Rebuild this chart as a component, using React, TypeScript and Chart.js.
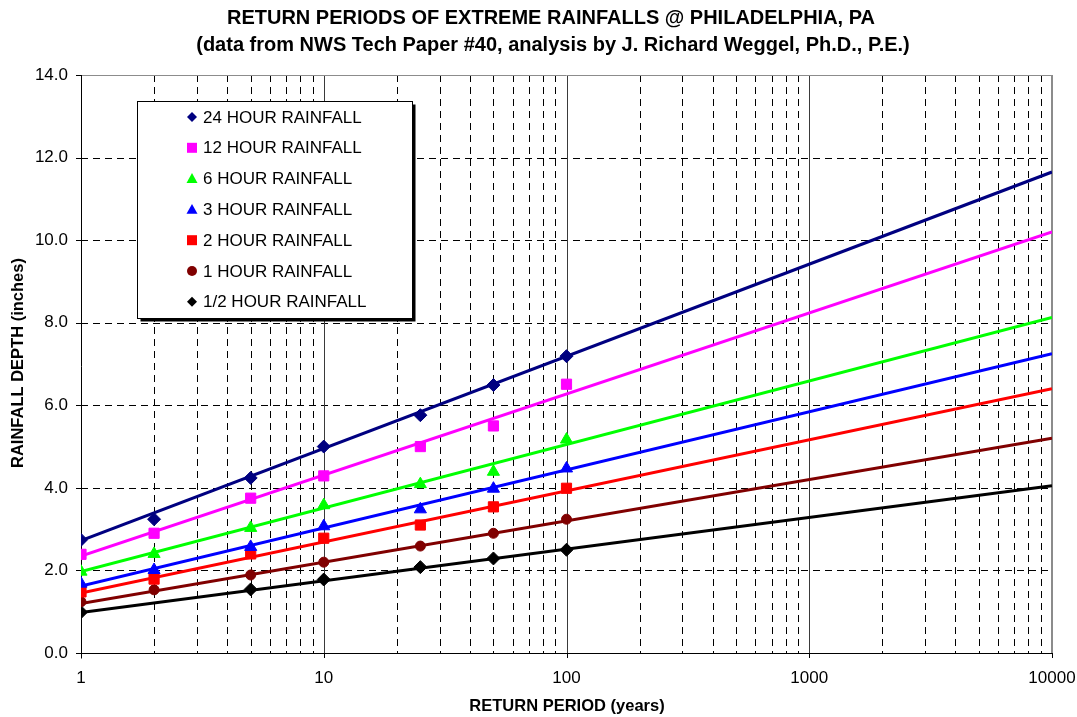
import React, { useEffect, useRef } from 'react';
import { Chart, registerables } from 'chart.js';

Chart.register(...registerables);

const FONT = "'Liberation Sans', Arial, Helvetica, sans-serif";

// ---- data ----
const returnPeriods = [1, 2, 5, 10, 25, 50, 100];
const rain24h = [2.74, 3.24, 4.24, 5.0, 5.76, 6.49, 7.19];
const rain12h = [2.39, 2.9, 3.75, 4.29, 5.0, 5.5, 6.51];
const rain6h = [1.97, 2.4, 3.03, 3.58, 4.09, 4.39, 5.17];
const rain3h = [1.68, 2.01, 2.57, 3.07, 3.48, 3.98, 4.47];
const rain2h = [1.48, 1.79, 2.4, 2.78, 3.1, 3.54, 3.99];
const rain1h = [1.24, 1.53, 1.89, 2.2, 2.59, 2.9, 3.24];
const rainHalfH: (number | null)[] = [0.99, null, 1.54, 1.78, 2.08, 2.29, 2.5];

// trend (log fit) lines: values at 1 and 10000 years
const trendPeriods = [1, 10000];
const trend24h = [2.72, 11.65];
const trend12h = [2.35, 10.2];
const trend6h = [1.97, 8.13];
const trend3h = [1.62, 7.25];
const trend2h = [1.45, 6.4];
const trend1h = [1.2, 5.2];
const trendHalfH = [0.98, 4.05];

const seriesLabels = [
  '24 HOUR RAINFALL',
  '12 HOUR RAINFALL',
  '6 HOUR RAINFALL',
  '3 HOUR RAINFALL',
  '2 HOUR RAINFALL',
  '1 HOUR RAINFALL',
  '1/2 HOUR RAINFALL',
];

const yTicks = [0, 2, 4, 6, 8, 10, 12, 14];
const xDecades = [1, 10, 100, 1000, 10000];

const titleLine1 = 'RETURN PERIODS OF EXTREME RAINFALLS @ PHILADELPHIA, PA';
const titleLine2 = '(data from NWS Tech Paper #40, analysis by J. Richard Weggel, Ph.D., P.E.)';
const xTitle = 'RETURN PERIOD (years)';
const yTitle = 'RAINFALL DEPTH (inches)';

type Shape = 'rectRot' | 'rect' | 'triangle' | 'circle';

const seriesStyle: { color: string; shape: Shape; r: number }[] = [
  { color: '#000080', shape: 'rectRot', r: 6.5 },
  { color: '#FF00FF', shape: 'rect', r: 7.2 },
  { color: '#00FF00', shape: 'triangle', r: 7 },
  { color: '#0000FF', shape: 'triangle', r: 7 },
  { color: '#FF0000', shape: 'rect', r: 7.2 },
  { color: '#800000', shape: 'circle', r: 5 },
  { color: '#000000', shape: 'rectRot', r: 6.5 },
];

function drawMarker(ctx: CanvasRenderingContext2D, shape: Shape, x: number, y: number, s: number, color: string) {
  ctx.save();
  ctx.fillStyle = color;
  ctx.beginPath();
  if (shape === 'rectRot') {
    ctx.moveTo(x, y - s);
    ctx.lineTo(x + s, y);
    ctx.lineTo(x, y + s);
    ctx.lineTo(x - s, y);
    ctx.closePath();
  } else if (shape === 'rect') {
    ctx.rect(x - s, y - s, 2 * s, 2 * s);
  } else if (shape === 'triangle') {
    ctx.moveTo(x, y - s);
    ctx.lineTo(x + s, y + s * 0.8);
    ctx.lineTo(x - s, y + s * 0.8);
    ctx.closePath();
  } else {
    ctx.arc(x, y, s, 0, Math.PI * 2);
  }
  ctx.fill();
  ctx.restore();
}

export default function App() {
  const ref = useRef<HTMLCanvasElement>(null);

  useEffect(() => {
    const canvas = ref.current!;
    const values = [rain24h, rain12h, rain6h, rain3h, rain2h, rain1h, rainHalfH];
    const trends = [trend24h, trend12h, trend6h, trend3h, trend2h, trend1h, trendHalfH];

    const datasets: any[] = [];
    values.forEach((vals, si) => {
      const st = seriesStyle[si];
      datasets.push({
        label: seriesLabels[si],
        data: returnPeriods
          .map((x, i) => (vals[i] == null ? null : { x, y: vals[i] }))
          .filter((p) => p !== null),
        showLine: false,
        pointStyle: st.shape,
        pointRadius: st.r,
        pointHoverRadius: st.r,
        backgroundColor: st.color,
        borderColor: st.color,
        borderWidth: 1,
        order: 0,
      });
    });
    trends.forEach((t, si) => {
      const st = seriesStyle[si];
      datasets.push({
        label: seriesLabels[si] + ' trend',
        data: trendPeriods.map((x, i) => ({ x, y: t[i] })),
        showLine: true,
        pointRadius: 0,
        borderColor: st.color,
        backgroundColor: st.color,
        borderWidth: 3,
        fill: false,
        order: 1,
      });
    });

    const decorPlugin = {
      id: 'decor',
      beforeDatasetsDraw(chart: any) {
        const ctx: CanvasRenderingContext2D = chart.ctx;
        const { left, right, top, bottom } = chart.chartArea;
        const xs = chart.scales.x;
        const ys = chart.scales.y;
        ctx.save();
        ctx.lineWidth = 1;
        // horizontal dashed grid
        ctx.strokeStyle = '#000';
        ctx.setLineDash([7, 5]);
        yTicks.forEach((v) => {
          if (v === 0 || v === 14) return;
          const y = Math.round(ys.getPixelForValue(v)) + 0.5;
          ctx.beginPath();
          ctx.moveTo(left, y);
          ctx.lineTo(right, y);
          ctx.stroke();
        });
        // minor vertical dashed grid
        for (let d = 1; d < 10000; d *= 10) {
          for (let m = 2; m <= 9; m++) {
            const x = Math.round(xs.getPixelForValue(d * m)) + 0.5;
            ctx.beginPath();
            ctx.moveTo(x, top);
            ctx.lineTo(x, bottom);
            ctx.stroke();
          }
        }
        ctx.setLineDash([]);
        // major vertical solid lines
        ctx.strokeStyle = '#3a3a3a';
        [10, 100, 1000].forEach((v) => {
          const x = Math.round(xs.getPixelForValue(v)) + 0.5;
          ctx.beginPath();
          ctx.moveTo(x, top);
          ctx.lineTo(x, bottom);
          ctx.stroke();
        });
        // top & right border (gray)
        ctx.strokeStyle = '#8c8c8c';
        ctx.beginPath();
        ctx.moveTo(left, Math.round(top) + 0.5);
        ctx.lineTo(right, Math.round(top) + 0.5);
        ctx.stroke();
        ctx.lineWidth = 2;
        ctx.beginPath();
        ctx.moveTo(Math.round(right), top);
        ctx.lineTo(Math.round(right), bottom);
        ctx.stroke();
        // axes
        ctx.lineWidth = 1;
        ctx.strokeStyle = '#000';
        const ax = Math.round(left) + 0.5;
        const ay = Math.round(bottom) + 0.5;
        ctx.beginPath();
        ctx.moveTo(ax, top);
        ctx.lineTo(ax, ay + 5);
        ctx.moveTo(left - 5, ay);
        ctx.lineTo(right, ay);
        ctx.stroke();
        // y ticks
        yTicks.forEach((v) => {
          const y = Math.round(ys.getPixelForValue(v)) + 0.5;
          ctx.beginPath();
          ctx.moveTo(left - 5, y);
          ctx.lineTo(left, y);
          ctx.stroke();
        });
        // x ticks
        xDecades.forEach((v) => {
          const x = Math.round(xs.getPixelForValue(v)) + 0.5;
          ctx.beginPath();
          ctx.moveTo(x, bottom);
          ctx.lineTo(x, bottom + 5);
          ctx.stroke();
        });
        ctx.restore();
      },
      afterDraw(chart: any) {
        const ctx: CanvasRenderingContext2D = chart.ctx;
        ctx.save();
        // titles
        ctx.fillStyle = '#000';
        ctx.textAlign = 'center';
        ctx.textBaseline = 'middle';
        ctx.font = `bold 20px ${FONT}`;
        ctx.fillText(titleLine1, 551, 18);
        ctx.fillText(titleLine2, 553, 45);
        ctx.font = `bold 16.5px ${FONT}`;
        ctx.fillText(xTitle, 567, 706);
        ctx.save();
        ctx.translate(18, 363);
        ctx.rotate(-Math.PI / 2);
        ctx.fillText(yTitle, 0, 0);
        ctx.restore();

        // legend
        const lx = 137.5, ly = 101.5, lw = 275, lh = 217;
        ctx.fillStyle = '#000';
        ctx.fillRect(lx + 3, ly + 3, lw, lh);
        ctx.fillStyle = '#fff';
        ctx.fillRect(lx, ly, lw, lh);
        ctx.strokeStyle = '#000';
        ctx.lineWidth = 1;
        ctx.strokeRect(lx, ly, lw, lh);
        ctx.font = `17px ${FONT}`;
        ctx.textAlign = 'left';
        ctx.textBaseline = 'middle';
        seriesLabels.forEach((lab, i) => {
          const y = 117 + i * 30.8;
          const st = seriesStyle[i];
          const s = st.shape === 'rect' ? 5 : st.shape === 'triangle' ? 5.5 : st.shape === 'circle' ? 5 : 5;
          drawMarker(ctx, st.shape, 192, y, s, st.color);
          ctx.fillStyle = '#000';
          ctx.fillText(lab, 203, y + 1);
        });
        ctx.restore();
      },
    };

    const chart = new Chart(canvas, {
      type: 'scatter',
      data: { datasets },
      options: {
        animation: false,
        responsive: false,
        maintainAspectRatio: false,
        events: [],
        layout: { padding: { left: 0, top: 75, right: 25, bottom: 0 } },
        plugins: {
          legend: { display: false },
          title: { display: false },
          tooltip: { enabled: false },
        },
        scales: {
          x: {
            type: 'logarithmic',
            min: 1,
            max: 10000,
            grid: { display: false, drawTicks: false },
            border: { display: false },
            afterFit: (scale: any) => {
              scale.height = 64;
              scale.paddingLeft = 0;
              scale.paddingRight = 0;
            },
            afterBuildTicks: (scale: any) => {
              scale.ticks = xDecades.map((v) => ({ value: v }));
            },
            ticks: {
              autoSkip: false,
              maxRotation: 0,
              padding: 15,
              color: '#000',
              font: { family: FONT, size: 17 },
              callback: (v: any) => String(v),
            },
          },
          y: {
            type: 'linear',
            min: 0,
            max: 14,
            grid: { display: false, drawTicks: false },
            border: { display: false },
            afterFit: (scale: any) => {
              scale.width = 81;
              scale.paddingTop = 0;
              scale.paddingBottom = 0;
            },
            ticks: {
              stepSize: 2,
              padding: 13,
              color: '#000',
              font: { family: FONT, size: 17 },
              callback: (v: any) => Number(v).toFixed(1),
            },
          },
        },
      },
      plugins: [decorPlugin],
    } as any);

    return () => chart.destroy();
  }, []);

  return (
    <div style={{ position: 'fixed', left: 0, top: 0, width: 1077, height: 717, background: '#fff' }}>
      <canvas ref={ref} width={1077} height={717} style={{ display: 'block', width: 1077, height: 717 }} />
    </div>
  );
}
